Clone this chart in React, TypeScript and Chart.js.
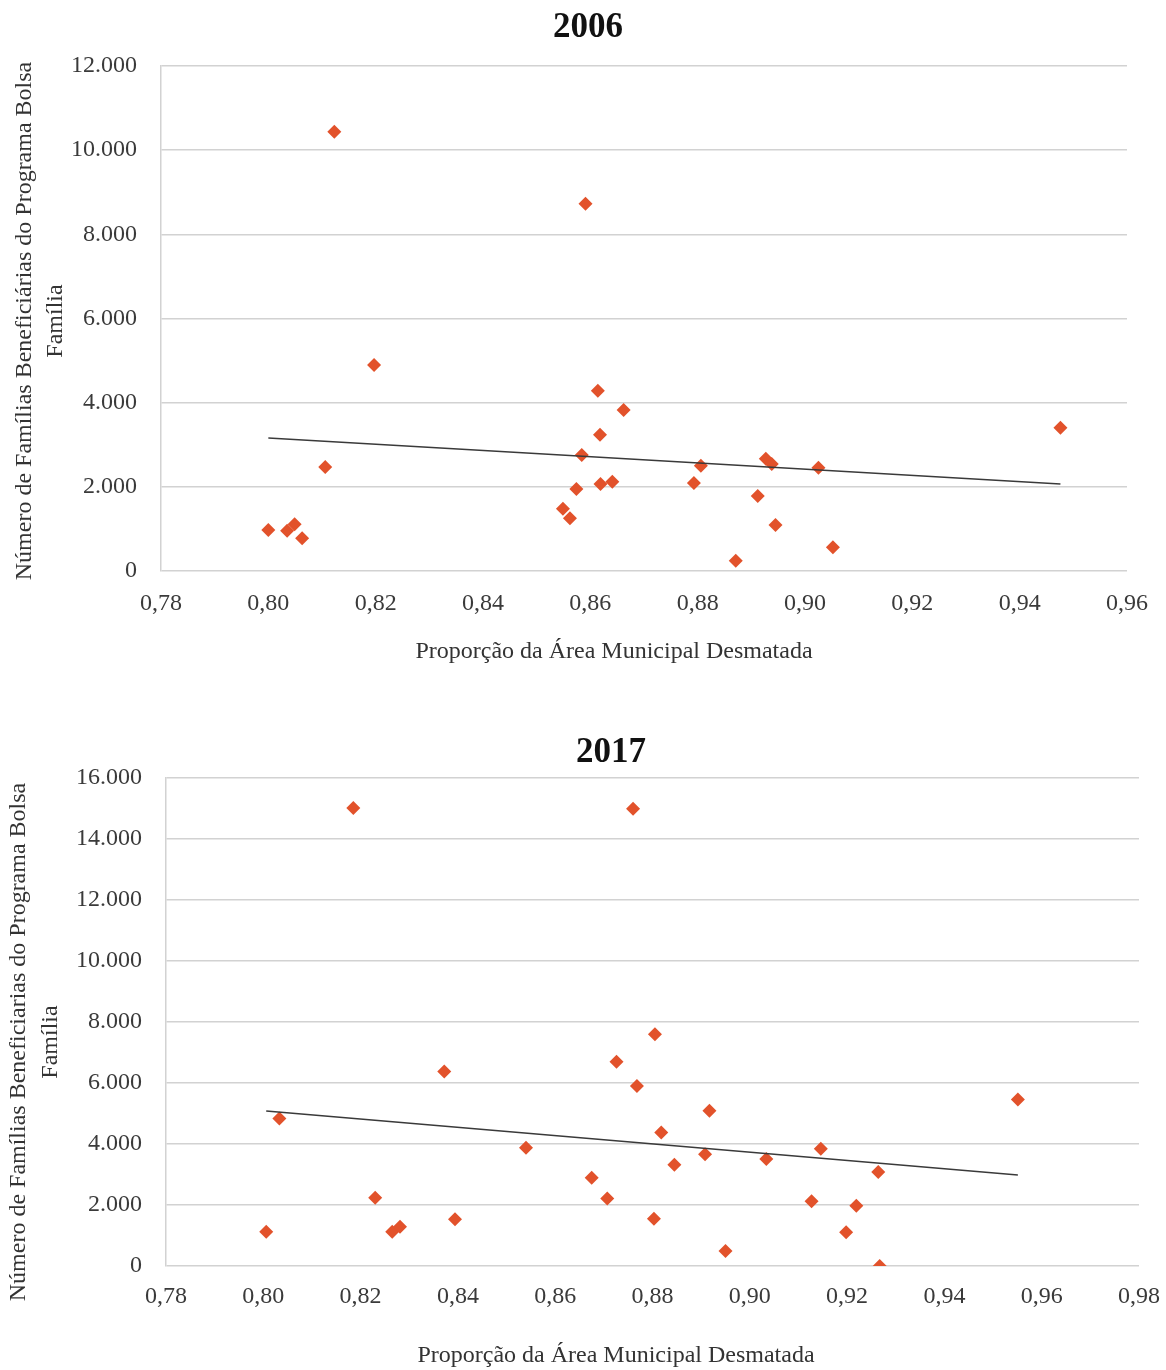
import React, { useEffect, useRef } from 'react';
import { Chart, registerables } from 'chart.js';

Chart.register(...registerables);

const FONT = '"Liberation Serif", "Times New Roman", serif';

// ---- 2006 ----
const x2006 = [0.8, 0.8035, 0.8049, 0.8063, 0.8106, 0.8123, 0.8197, 0.8549, 0.8562, 0.8574, 0.8584, 0.8591, 0.8614, 0.8618, 0.8619, 0.8641, 0.8662, 0.8793, 0.8806, 0.8871, 0.8912, 0.8927, 0.8938, 0.8945, 0.9025, 0.9052, 0.9476];
const y2006 = [975, 957, 1109, 776, 2470, 10440, 4893, 1480, 1251, 1948, 2755, 8725, 4285, 3240, 2067, 2122, 3826, 2091, 2503, 245, 1782, 2669, 2543, 1093, 2455, 563, 3406];
const trendX2006 = [0.8, 0.9476];
const trendY2006 = [3158, 2067];
const xTicks2006 = ['0,78', '0,80', '0,82', '0,84', '0,86', '0,88', '0,90', '0,92', '0,94', '0,96'];
const yTicks2006 = ['0', '2.000', '4.000', '6.000', '8.000', '10.000', '12.000'];
const yTitle2006 = ['Número de Famílias Beneficiárias do Programa Bolsa', 'Família'];

// ---- 2017 ----
const x2017 = [0.8006, 0.8033, 0.8185, 0.823, 0.8265, 0.8281, 0.8372, 0.8394, 0.854, 0.8675, 0.8707, 0.8726, 0.876, 0.8768, 0.8803, 0.8805, 0.8818, 0.8845, 0.8908, 0.8917, 0.895, 0.9034, 0.9127, 0.9146, 0.9198, 0.9219, 0.9264, 0.9267, 0.9551];
const y2017 = [1124, 4839, 15020, 2238, 1124, 1288, 6379, 1530, 3877, 2893, 2212, 6694, 14990, 5898, 1547, 7600, 4381, 3319, 3660, 5088, 491, 3506, 2120, 3844, 1108, 1976, 3080, 0, 5462];
const trendX2017 = [0.8006, 0.9551];
const trendY2017 = [5079, 2982];
const xTicks2017 = ['0,78', '0,80', '0,82', '0,84', '0,86', '0,88', '0,90', '0,92', '0,94', '0,96', '0,98'];
const yTicks2017 = ['0', '2.000', '4.000', '6.000', '8.000', '10.000', '12.000', '14.000', '16.000'];
const yTitle2017 = ['Número de Famílias Beneficiarias do Programa Bolsa', 'Família'];

const xTitleText = 'Proporção da Área Municipal Desmatada';

type PanelCfg = {
  top: number;
  height: number;
  title: string;
  xs: number[];
  ys: number[];
  trendX: number[];
  trendY: number[];
  xTicks: string[];
  yTicks: string[];
  yTitle: string[];
  xMin: number;
  xMax: number;
  yMax: number;
  yStep: number;
  padTop: number;
  padRight: number;
  yAxisWidth: number;
  xAxisHeight: number;
  xTickPad: number;
  titleX: number;
  titleBaseline: number;
  xTitleX: number;
  xTitleBaseline: number;
  yTitleBaselines: number[];
  yTitleCenter: number;
};

const panels: PanelCfg[] = [
  {
    top: 0, height: 690, title: '2006',
    xs: x2006, ys: y2006, trendX: trendX2006, trendY: trendY2006,
    xTicks: xTicks2006, yTicks: yTicks2006, yTitle: yTitle2006,
    xMin: 0.78, xMax: 0.96, yMax: 12000, yStep: 2000,
    padTop: 66, padRight: 39, yAxisWidth: 161, xAxisHeight: 119, xTickPad: 18,
    titleX: 588, titleBaseline: 37,
    xTitleX: 614, xTitleBaseline: 658,
    yTitleBaselines: [31, 62], yTitleCenter: 321,
  },
  {
    top: 690, height: 680, title: '2017',
    xs: x2017, ys: y2017, trendX: trendX2017, trendY: trendY2017,
    xTicks: xTicks2017, yTicks: yTicks2017, yTitle: yTitle2017,
    xMin: 0.78, xMax: 0.98, yMax: 16000, yStep: 2000,
    padTop: 88, padRight: 27, yAxisWidth: 166, xAxisHeight: 104, xTickPad: 16,
    titleX: 611, titleBaseline: 72,
    xTitleX: 616, xTitleBaseline: 672,
    yTitleBaselines: [25, 57], yTitleCenter: 352,
  },
];

function Panel({ cfg }: { cfg: PanelCfg }) {
  const ref = useRef<HTMLCanvasElement>(null);

  useEffect(() => {
    if (!ref.current) return;
    const p = cfg;
    const textPlugin = {
      id: 'panelText',
      afterDraw(chart: any) {
        const ctx = chart.ctx as CanvasRenderingContext2D;
        ctx.save();
        ctx.textAlign = 'center';
        ctx.textBaseline = 'alphabetic';
        ctx.fillStyle = '#111111';
        ctx.font = `bold 35px ${FONT}`;
        ctx.fillText(p.title, p.titleX, p.titleBaseline);
        ctx.fillStyle = '#333333';
        ctx.font = `24px ${FONT}`;
        ctx.fillText(xTitleText, p.xTitleX, p.xTitleBaseline);
        p.yTitle.forEach((line, i) => {
          ctx.save();
          ctx.translate(p.yTitleBaselines[i], p.yTitleCenter);
          ctx.rotate(-Math.PI / 2);
          ctx.fillText(line, 0, 0);
          ctx.restore();
        });
        ctx.restore();
      },
    };

    const chart = new Chart(ref.current, {
      type: 'scatter',
      data: {
        datasets: [
          {
            type: 'line',
            data: p.trendX.map((x, i) => ({ x, y: p.trendY[i] })),
            borderColor: '#3a3a3a',
            borderWidth: 1.5,
            pointRadius: 0,
            fill: false,
            order: 0,
          } as any,
          {
            type: 'scatter',
            data: p.xs.map((x, i) => ({ x, y: p.ys[i] })),
            pointStyle: 'rectRot',
            pointRadius: 7,
            pointHoverRadius: 7,
            backgroundColor: '#E2522B',
            borderColor: '#E2522B',
            borderWidth: 0,
            order: 1,
          } as any,
        ],
      },
      options: {
        animation: false,
        responsive: false,
        maintainAspectRatio: false,
        events: [],
        layout: { padding: { top: p.padTop, right: p.padRight, left: 0, bottom: 0 } },
        plugins: {
          legend: { display: false },
          tooltip: { enabled: false },
          title: { display: false },
        },
        scales: {
          x: {
            type: 'linear',
            min: p.xMin,
            max: p.xMax,
            grid: { display: false, drawTicks: false },
            border: { display: false },
            ticks: {
              stepSize: 0.02,
              autoSkip: false,
              maxRotation: 0,
              padding: p.xTickPad,
              color: '#3a3a3a',
              font: { family: FONT, size: 24 },
              callback: (_v: any, i: number) => p.xTicks[i],
            },
            afterFit: (scale: any) => {
              scale.height = p.xAxisHeight;
              scale.paddingLeft = 0;
              scale.paddingRight = 0;
            },
          },
          y: {
            type: 'linear',
            min: 0,
            max: p.yMax,
            grid: { color: '#D2D2D2', lineWidth: 1.5, drawTicks: false },
            border: { display: true, color: '#D2D2D2', width: 1.5 },
            ticks: {
              stepSize: p.yStep,
              autoSkip: false,
              padding: 24,
              color: '#3a3a3a',
              font: { family: FONT, size: 24 },
              callback: (_v: any, i: number) => p.yTicks[i],
            },
            afterFit: (scale: any) => {
              scale.width = p.yAxisWidth;
            },
          },
        },
      } as any,
      plugins: [textPlugin],
    });
    return () => chart.destroy();
  }, [cfg]);

  return (
    <div style={{ position: 'absolute', left: 0, top: cfg.top, width: 1166, height: cfg.height }}>
      <canvas ref={ref} width={1166} height={cfg.height} style={{ display: 'block', width: 1166, height: cfg.height }} />
    </div>
  );
}

export default function App() {
  return (
    <div style={{ position: 'absolute', left: 0, top: 0, width: 1166, height: 1370, background: '#ffffff' }}>
      {panels.map((cfg) => (
        <Panel key={cfg.title} cfg={cfg} />
      ))}
    </div>
  );
}
